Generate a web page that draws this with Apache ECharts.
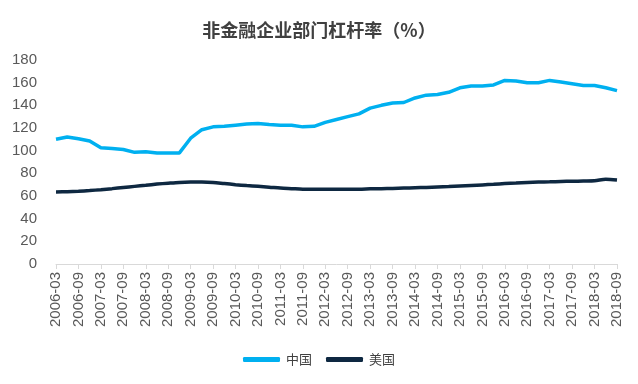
<!DOCTYPE html>
<html><head><meta charset="utf-8">
<script src="https://cdn.jsdelivr.net/npm/echarts@6/dist/echarts.min.js"></script>
<style>html,body{margin:0;padding:0;background:#fff}#c{width:638px;height:384px}</style>
</head><body><div id="c"></div>
<script>
const categories = [];
for (let y = 2006; y <= 2018; y++) {
  for (const m of ['03','06','09','12']) {
    const k = y + '-' + m;
    categories.push(k);
    if (k === '2018-09') break;
  }
}
const chinaValues = [110,112,110.5,108.5,102.5,102,101,98.5,99,98,98,98,
  111,118.5,121,121.5,122.5,123.5,124,123,122.5,122.5,121,121.5,
  125,127.5,130,132.5,137.5,140,142,142.5,146.5,149,149.5,151.5,
  155.5,157,157,158,162,161.5,160,160,162,160.5,159,157.5,157.5,155.5,153];
const usValues = [63.5,63.8,64.2,64.8,65.6,66.5,67.5,68.5,69.5,70.5,71.3,72,
  72.3,72.3,72,71,70,69.2,68.5,67.8,67,66.5,66,66,
  66,66,66,66,66.3,66.5,66.7,67,67.3,67.6,68,68.3,
  68.8,69.3,69.8,70.3,71,71.5,72,72.3,72.5,72.8,73,73.2,73.4,74.8,74.2];
const titleText = '非金融企业部门杠杆率（%）';
const seriesNames = ['中国','美国'];

const chart = echarts.init(document.getElementById('c'));
chart.setOption({
  animation: false,
  title: {text: titleText, left: 'center', top: 16,
    textStyle: {fontSize: 18, fontWeight: 'bold', color: '#404040', fontFamily: 'Noto Sans CJK SC'}},
  legend: {top: 348, left: 'center', itemWidth: 37, itemHeight: 5, itemGap: 14,
    icon: 'roundRect',
    textStyle: {fontSize: 13, color: '#404040', fontFamily: 'Noto Sans CJK SC', padding: [0,0,0,1]},
    data: seriesNames},
  grid: {left: 56, right: 21, top: 60, bottom: 120, containLabel: false},
  xAxis: {type: 'category', data: categories, boundaryGap: false,
    axisLine: {lineStyle: {color: '#D9D9D9', width: 1}},
    axisTick: {show: true, interval: 1, length: 5, lineStyle: {color: '#D9D9D9'}},
    axisLabel: {interval: 1, rotate: 90, fontSize: 15, color: '#595959', fontFamily: 'Liberation Sans', margin: 8}},
  yAxis: {type: 'value', min: 0, max: 180, interval: 20,
    axisLine: {show: false}, axisTick: {show: false}, splitLine: {show: false},
    axisLabel: {fontSize: 15, color: '#595959', fontFamily: 'Liberation Sans', margin: 19}},
  series: [
    {name: seriesNames[0], type: 'line', data: chinaValues, showSymbol: false, symbol: 'none',
      lineStyle: {color: '#00B0F0', width: 3.5}, itemStyle: {color: '#00B0F0'}},
    {name: seriesNames[1], type: 'line', data: usValues, showSymbol: false, symbol: 'none', smooth: 0.3,
      lineStyle: {color: '#0E2841', width: 3.5}, itemStyle: {color: '#0E2841'}}
  ]
});
</script></body></html>
